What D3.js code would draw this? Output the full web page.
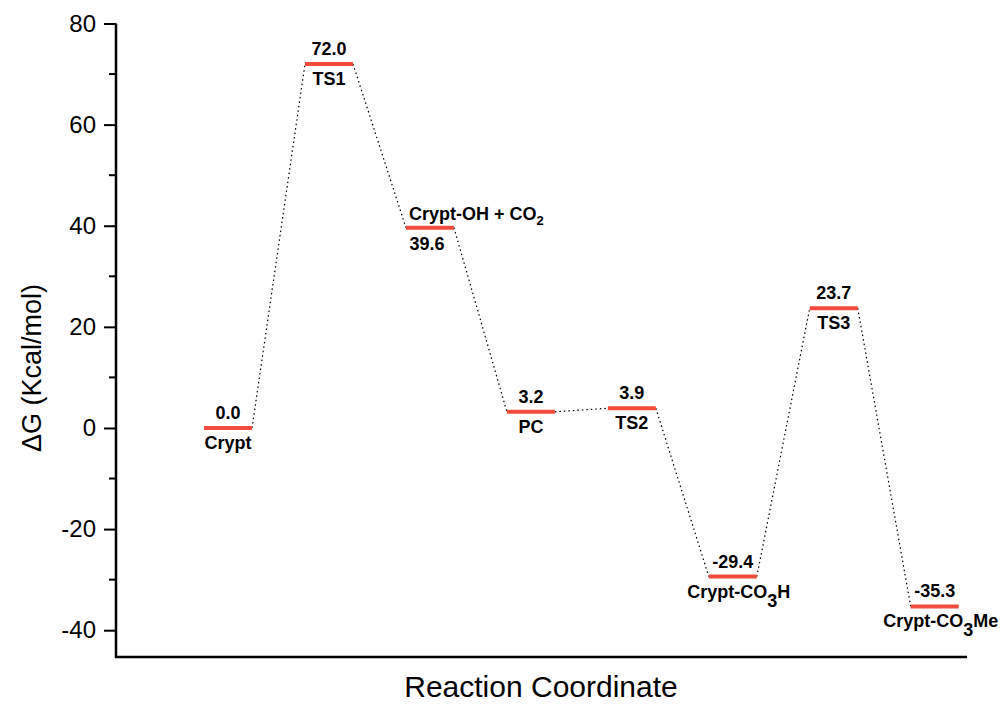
<!DOCTYPE html>
<html>
<head>
<meta charset="utf-8">
<title>Energy profile</title>
<script src="https://d3js.org/d3.v7.min.js"></script>
<style>
  body { margin: 0; background: #fff; font-family: Arial, "Liberation Sans", sans-serif; }
  .lbl { font-weight: bold; font-size: 18px; }
  .tick text { font-size: 24px; font-family: Arial, "Liberation Sans", sans-serif; }
</style>
</head>
<body>
<svg id="chart" width="1005" height="704"></svg>
<script>
const species = ["Crypt", "TS1", "Crypt-OH + CO2", "PC", "TS2", "Crypt-CO3H", "TS3", "Crypt-CO3Me"];
const energies = [0.0, 72.0, 39.6, 3.2, 3.9, -29.4, 23.7, -35.3];
// name drawn above the level (true) or below it (false)
const nameAbove = [false, false, true, false, false, false, false, false];
// rich label parts: [text, isSubscript]
const nameParts = [
  [["Crypt", false]],
  [["TS1", false]],
  [["Crypt-OH + CO", false], ["2", true]],
  [["PC", false]],
  [["TS2", false]],
  [["Crypt-CO", false], ["3", true], ["H", false]],
  [["TS3", false]],
  [["Crypt-CO", false], ["3", true], ["Me", false]]
];
const yTicks = [-40, -20, 0, 20, 40, 60, 80];

const svg = d3.select("#chart");
const mLeft = 116, mRight = 967, mTop = 23.5, mBottom = 657;

const x = d3.scaleLinear().domain([-1.11, 7.32]).range([mLeft, mRight]);
const y = d3.scaleLinear().domain([-45.3, 80]).range([mBottom, mTop]);
const half = 24;

// y axis
const yAxis = d3.axisLeft(y).tickValues(yTicks).tickSize(12).tickSizeOuter(0).tickPadding(8)
  .tickFormat(d => String(d));
const gy = svg.append("g").attr("transform", `translate(${mLeft},0)`).call(yAxis);
gy.select(".domain").remove();
gy.selectAll(".tick line").attr("stroke-width", 2);
const minor = d3.range(-40, 81, 10).filter(v => !yTicks.includes(v));
gy.selectAll(".minor").data(minor).enter().append("line")
  .attr("x1", -7).attr("x2", 0)
  .attr("y1", d => y(d)).attr("y2", d => y(d))
  .attr("stroke", "#000").attr("stroke-width", 2);
svg.append("line").attr("x1", mLeft).attr("x2", mLeft).attr("y1", mTop).attr("y2", mBottom + 1)
  .attr("stroke", "#000").attr("stroke-width", 2.5);
svg.append("line").attr("x1", mLeft - 1).attr("x2", mRight).attr("y1", mBottom).attr("y2", mBottom)
  .attr("stroke", "#000").attr("stroke-width", 2.5);

// titles
svg.append("text").attr("transform", `translate(41,368) rotate(-90)`)
  .attr("text-anchor", "middle").style("font-size", "27px").text("\u0394G (Kcal/mol)");
svg.append("text").attr("x", 541).attr("y", 697).attr("text-anchor", "middle")
  .style("font-size", "30px").text("Reaction Coordinate");

// connectors
const links = d3.range(species.length - 1);
svg.append("g").selectAll("line").data(links).enter().append("line")
  .attr("x1", i => x(i) + half).attr("y1", i => y(energies[i]))
  .attr("x2", i => x(i + 1) - half).attr("y2", i => y(energies[i + 1]))
  .attr("stroke", "#000").attr("stroke-width", 1.2).attr("stroke-dasharray", "1.5,3");

// levels
svg.append("g").selectAll("line").data(energies).enter().append("line")
  .attr("x1", (d, i) => x(i) - half).attr("x2", (d, i) => x(i) + half)
  .attr("y1", d => y(d)).attr("y2", d => y(d))
  .attr("stroke", "#f24c3c").attr("stroke-width", 4);

// labels
energies.forEach((e, i) => {
  const cx = x(i), cy = y(e);
  const above = nameAbove[i];
  const valY = above ? cy + 22 : cy - 9;
  const nameY = above ? cy - 8 : cy + 21;
  svg.append("text").attr("class", "lbl").attr("x", above ? cx - 3 : cx).attr("y", valY)
    .attr("text-anchor", "middle").text(e.toFixed(1));
  const t = svg.append("text").attr("class", "lbl")
    .attr("x", above ? x(i) - half + 3 : cx + (nameParts[i].length > 1 ? 6 : 0)).attr("y", nameY)
    .attr("text-anchor", above ? "start" : "middle");
  nameParts[i].forEach(([s, sub]) => {
    const ts = t.append("tspan").text(s);
    if (sub) ts.attr("dy", above ? 5 : 9).style("font-size", above ? "13px" : "18px");
    else if (t.selectAll("tspan").size() > 1) ts.attr("dy", -9);
  });
});
</script>
</body>
</html>
